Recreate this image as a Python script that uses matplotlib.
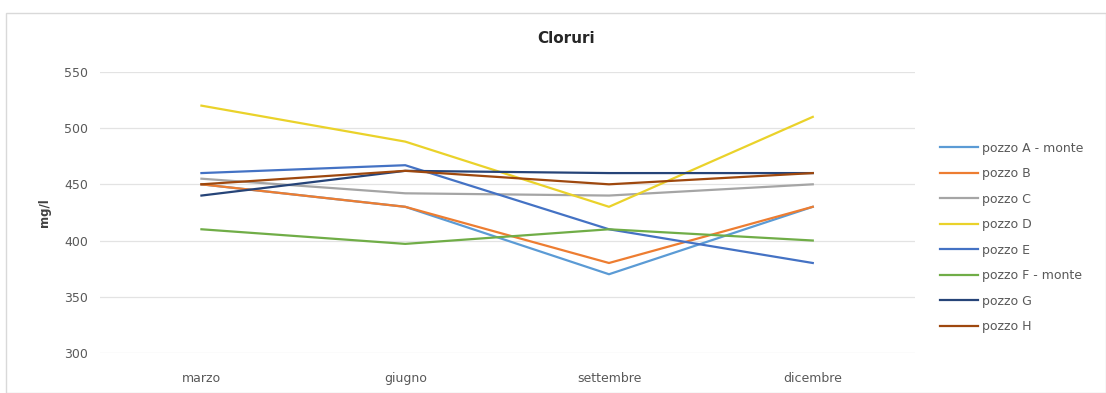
import matplotlib.pyplot as plt
from matplotlib.patches import Rectangle

plt.rcParams['font.family'] = ['DejaVu Sans']

# data (mg/l)
mesi = ['marzo', 'giugno', 'settembre', 'dicembre']
pozzo_a = [450, 430, 370, 430]
pozzo_b = [450, 430, 380, 430]
pozzo_c = [455, 442, 440, 450]
pozzo_d = [520, 488, 430, 510]
pozzo_e = [460, 467, 410, 380]
pozzo_f = [410, 397, 410, 400]
pozzo_g = [440, 462, 460, 460]
pozzo_h = [450, 462, 450, 460]

serie = [
    ('pozzo A - monte', pozzo_a, '#5B9BD5'),
    ('pozzo B', pozzo_b, '#ED7D31'),
    ('pozzo C', pozzo_c, '#A5A5A5'),
    ('pozzo D', pozzo_d, '#EAD22A'),
    ('pozzo E', pozzo_e, '#4472C4'),
    ('pozzo F - monte', pozzo_f, '#70AD47'),
    ('pozzo G', pozzo_g, '#264478'),
    ('pozzo H', pozzo_h, '#9E480E'),
]

fig = plt.figure(figsize=(11.06, 3.93), dpi=100)
ax = fig.add_axes([0.090, 0.102, 0.737, 0.715])

x = range(len(mesi))
for nome, valori, colore in serie:
    ax.plot(x, valori, color=colore, linewidth=1.6, label=nome)

ax.set_xlim(-0.5, 3.5)
ax.set_ylim(300, 550)
ax.set_yticks([300, 350, 400, 450, 500, 550])
ax.set_xticks(list(x))
ax.set_xticklabels(mesi)
ax.grid(axis='y', color='#E3E3E3', linewidth=0.9)
ax.set_axisbelow(True)
for s in ax.spines.values():
    s.set_visible(False)
ax.tick_params(length=0, labelsize=9, labelcolor='#595959')
ax.tick_params(axis='y', pad=8)
ax.tick_params(axis='x', pad=14)

ax.set_ylabel('mg/l', fontsize=8.5, fontweight='bold', color='#404040', labelpad=10)
fig.text(0.512, 0.901, 'Cloruri', fontsize=11, fontweight='bold', color='#262626',
         ha='center', va='center')

fig.legend(loc='upper left', bbox_to_anchor=(0.840, 0.668), frameon=False,
           fontsize=9, labelcolor='#595959', handlelength=3.0,
           handletextpad=0.3, labelspacing=1.0)

# light frame around the whole chart
fig.patches.append(Rectangle((0.005, 0.0), 0.995, 0.968, transform=fig.transFigure,
                             fill=False, edgecolor='#D9D9D9', linewidth=1.0))

fig.savefig('out.png', dpi=100)
